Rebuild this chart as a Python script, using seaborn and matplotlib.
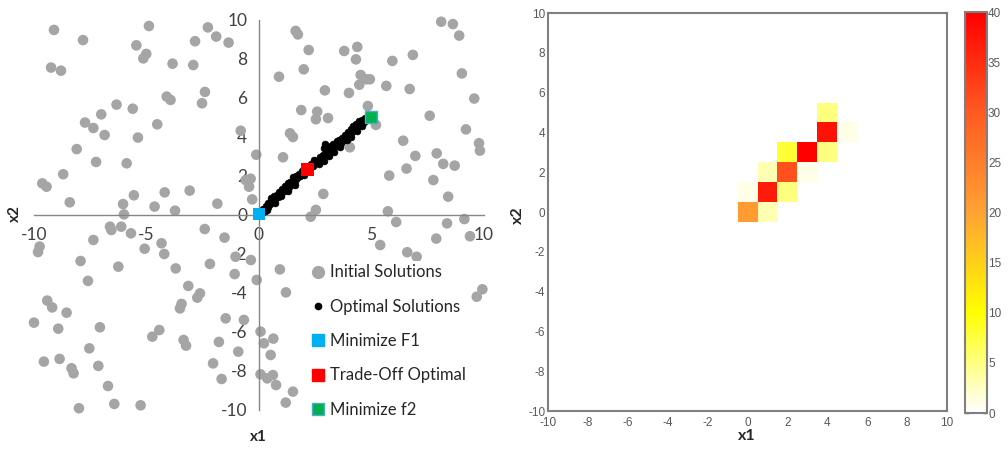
import numpy as np
import pandas as pd
import matplotlib
matplotlib.use("Agg")
import matplotlib.pyplot as plt
import seaborn as sns
from matplotlib.colors import LinearSegmentedColormap
from matplotlib.lines import Line2D

# initial (random) solutions
init_x = [-9.11, -7.82, -4.89, -2.27, -1.90, -1.35, -2.84, -5.45, -5.01, -5.14,
          -9.24, -8.80, -3.84, -2.92, 1.63, 1.73, 2.21, 1.99, 0.89, 3.79,
          4.37, 4.31, 4.52, 4.77, 4.46, 4.93, 2.93, 4.00, 5.66, 5.93,
          6.84, 6.70, 8.10, 8.62, 8.90, 9.02, 9.57, 4.84, 5.20, 7.59,
          9.20, 9.78, 9.82, 6.41, 6.95, 7.90, 8.19, 8.70, 6.56, 5.79,
          7.75, 8.41, 5.73, 6.10, 8.36, 9.13, 7.88, 9.38, 5.39, 6.59,
          7.01, 9.93, 9.68, 2.53, 2.30, 2.86, 1.07, -0.12, 1.88, 2.59,
          2.53, 3.07, 1.38, 1.51, 4.04, -0.81, -0.37, -0.59, -0.44, -0.30,
          -1.85, -3.08, -4.19, -4.64, -3.73, -5.56, -6.04, -6.00, -8.41, -8.70,
          -9.63, -9.44, -7.24, -5.88, -8.10, -7.73, -7.36, -7.01, -6.86, -6.33,
          -5.61, -5.38, -4.52, -4.10, -3.93, -2.40, -2.53, -2.41, -1.53, -6.62,
          -6.56, -6.12, -5.69, -7.36, -9.75, -9.82, -5.08, -4.33, -4.21, -7.93,
          -6.25, -3.70, -2.18, -0.36, -1.04, -1.08, -0.10, 0.93, 1.20, -7.60,
          -3.14, -2.74, -2.62, -9.41, -9.19, -8.55, -3.44, -3.51, -10.00, -8.92,
          -7.07, -1.48, -0.67, -4.43, -4.74, -3.35, -3.24, -1.78, -0.92, -7.54,
          -9.56, -8.86, -7.14, -8.33, -8.24, -2.04, -1.66, -6.71, -8.00, -6.43,
          -5.26, 0.07, 0.22, 0.64, 0.52, 0.07, 0.37, 0.62, 0.76, 1.19, 1.51]
init_y = [9.49, 8.97, 9.69, 9.62, 9.15, 8.84, 8.91, 8.70, 8.26, 8.03,
          7.56, 7.40, 7.76, 7.69, 9.44, 9.26, 8.46, 7.47, 7.09, 8.41,
          8.62, 7.98, 7.18, 6.96, 6.68, 6.96, 6.39, 6.26, 6.62, 7.90,
          8.21, 6.46, 9.91, 9.79, 9.20, 7.26, 5.97, 5.59, 4.62, 5.09,
          4.39, 3.68, 3.30, 3.81, 3.03, 3.16, 2.62, 2.53, 2.38, 2.02,
          1.79, 0.94, 0.19, -0.36, -0.43, -0.21, -1.21, -1.09, -1.54, -1.91,
          -2.14, -3.81, -4.19, 0.26, -0.09, 1.08, 2.96, 3.09, 5.38, 5.30,
          4.91, 4.97, 4.19, 4.00, 3.47, 4.32, 1.86, 1.79, 1.45, 0.80,
          0.58, 1.25, 1.16, 0.43, 0.22, 1.01, 0.56, 0.03, 0.65, 2.09,
          1.62, 1.45, 2.72, 2.65, 3.38, 4.74, 4.46, 5.16, 4.10, 5.66,
          5.45, 3.97, 4.65, 6.07, 5.90, 6.31, 5.73, -0.72, -1.16, -0.60,
          -0.77, -0.60, -0.94, -1.28, -1.62, -1.90, -1.73, -1.45, -2.00, -2.36,
          -2.65, -2.74, -2.51, -2.31, -2.14, -3.03, -3.33, -2.79, -3.97, -3.38,
          -3.64, -4.24, -4.02, -4.39, -4.74, -5.01, -4.56, -4.79, -5.52, -5.83,
          -5.76, -5.30, -5.38, -5.90, -6.24, -6.41, -6.70, -6.51, -7.01, -6.84,
          -7.52, -7.38, -7.74, -7.86, -8.12, -7.61, -8.41, -8.77, -9.91, -9.69,
          -9.76, -5.98, -6.58, -6.34, -7.18, -8.17, -8.38, -8.21, -8.72, -9.62, -9.06]

# optimal (Pareto) solutions along the diagonal band
opt_x = [0.05, 0.12, 0.18, 0.25, 0.31, 0.38, 0.42, 0.50, 0.55, 0.61, 0.68, 0.72,
         0.80, 0.86, 0.90, 0.97, 1.03, 1.10, 1.15, 1.21, 1.28, 1.33, 1.40, 1.46,
         1.52, 1.58, 1.63, 1.70, 1.77, 1.82, 1.90, 1.95, 2.02, 2.08, 2.15, 2.22,
         2.30, 2.36, 2.43, 2.50, 2.56, 2.62, 2.70, 2.76, 2.83, 2.88, 2.95, 3.00,
         3.05, 3.12, 3.18, 3.25, 3.31, 3.38, 3.45, 3.50, 3.57, 3.63, 3.70, 3.76,
         3.82, 3.88, 3.95, 4.02, 4.08, 4.15, 4.20, 4.27, 4.33, 4.40, 4.46, 4.52,
         4.58, 4.65, 4.72, 4.80, 0.35, 0.70, 1.00, 1.30, 1.60, 2.00, 2.40, 2.65,
         2.90, 3.10, 3.35, 3.60, 3.90, 4.10, 4.35, 4.60]
opt_y = [0.12, 0.10, 0.30, 0.22, 0.45, 0.40, 0.62, 0.58, 0.85, 0.72, 0.95, 0.80,
         1.02, 0.90, 1.20, 1.10, 1.35, 1.22, 1.50, 1.30, 1.62, 1.45, 1.70, 1.58,
         1.95, 1.75, 2.02, 1.88, 2.10, 1.98, 2.25, 2.12, 2.40, 2.22, 2.45, 2.38,
         2.62, 2.55, 2.80, 2.65, 2.75, 2.70, 2.95, 2.82, 3.10, 3.45, 3.65, 3.20,
         3.50, 3.30, 3.55, 3.40, 3.62, 3.52, 3.78, 3.60, 3.85, 3.70, 3.95, 3.82,
         4.10, 3.95, 4.25, 4.12, 4.40, 4.28, 4.55, 4.42, 4.68, 4.55, 4.80, 4.65,
         4.88, 4.75, 4.95, 4.88, 0.28, 0.62, 0.98, 1.25, 1.55, 2.05, 2.50, 2.60,
         2.78, 3.02, 3.25, 3.50, 3.85, 4.00, 4.30, 4.55]

min_f1 = [0.0, 0.05]
trade_off = [2.15, 2.34]
min_f2 = [5.0, 5.04]

# histogram of optimal solutions (cells centred on integers)
cell_x = [0, 1, 0, 1, 2, 1, 2, 3, 2, 3, 4, 4, 5, 4]
cell_y = [0, 0, 1, 1, 1, 2, 2, 2, 3, 3, 3, 4, 4, 5]
cell_count = [21, 3, 1, 37, 5, 3, 31, 1, 8, 40, 5, 38, 1, 5]

legend_labels = ["Initial Solutions", "Optimal Solutions", "Minimize F1",
                 "Trade-Off Optimal", "Minimize f2"]

sns.set_style("white")
plt.rcParams["font.family"] = ["Lato", "DejaVu Sans"]
plt.rcParams["axes.unicode_minus"] = False

fig = plt.figure(figsize=(10.08, 4.49), dpi=100)
ax1 = fig.add_axes([0.0337, 0.0869, 0.4464, 0.8686])
ax2 = fig.add_axes([0.5437, 0.0846, 0.3958, 0.8864])
cax = fig.add_axes([0.957, 0.080, 0.0218, 0.893])

# -----------------------------
# Left: scatter of solutions
# -----------------------------
sns.scatterplot(x=init_x, y=init_y, ax=ax1, color="#A5A5A5", s=58,
                edgecolor="none", clip_on=False, zorder=2)
sns.scatterplot(x=opt_x, y=opt_y, ax=ax1, color="black", s=24,
                edgecolor="black", linewidth=0.5, zorder=3)
sns.scatterplot(x=[min_f1[0]], y=[min_f1[1]], ax=ax1, marker="s", color="#00B0F0",
                s=80, edgecolor="none", zorder=4, clip_on=False)
sns.scatterplot(x=[trade_off[0]], y=[trade_off[1]], ax=ax1, marker="s", color="#FF0000",
                s=80, edgecolor="none", zorder=4)
sns.scatterplot(x=[min_f2[0]], y=[min_f2[1]], ax=ax1, marker="s", color="#00B050",
                s=80, edgecolor="#4BACC6", linewidth=1, zorder=4)

ax1.set_xlim(-10, 10)
ax1.set_ylim(-10, 10)
ax1.set_xticks([-10, -5, 0, 5, 10])
ax1.set_yticks(range(-10, 11, 2))
ax1.spines["left"].set_position("zero")
ax1.spines["bottom"].set_position("zero")
for side in ["top", "right"]:
    ax1.spines[side].set_visible(False)
for side in ["left", "bottom"]:
    ax1.spines[side].set_color("#868686")
    ax1.spines[side].set_linewidth(1)
ax1.tick_params(direction="out", length=5, width=1, color="#868686",
                labelsize=12.5, labelcolor="#404040")
ax1.set_xlabel("")
ax1.set_ylabel("")
fig.text(15 / 1008, 1 - 214 / 449, "x2", rotation=90, fontsize=11, fontweight="bold",
         ha="center", va="center")
fig.text(258 / 1008, 1 - 437 / 449, "x1", fontsize=11, fontweight="bold",
         ha="center", va="center")

handles = [
    Line2D([], [], marker="o", ls="none", color="#A5A5A5", markersize=8.5),
    Line2D([], [], marker="o", ls="none", color="black", markersize=4.5),
    Line2D([], [], marker="s", ls="none", color="#00B0F0", markersize=8),
    Line2D([], [], marker="s", ls="none", color="#FF0000", markersize=8),
    Line2D([], [], marker="s", ls="none", color="#00B050", markeredgecolor="#4BACC6",
           markersize=8),
]
leg = ax1.legend(handles, legend_labels, loc="upper left",
                 bbox_to_anchor=(308 / 1008, 1 - 261 / 449), bbox_transform=fig.transFigure,
                 frameon=True, fancybox=False, edgecolor="none", facecolor="white",
                 framealpha=1, fontsize=12, labelspacing=1.1, handlelength=0.8,
                 handletextpad=0.3, borderpad=0.2, borderaxespad=0)
for t in leg.get_texts():
    t.set_color("#262626")

# -----------------------------
# Right: heatmap of optimal solutions
# -----------------------------
xs = list(range(-10, 11))
ys = list(range(10, -11, -1))
grid = pd.DataFrame(0.0, index=ys, columns=xs)
for cx, cy, c in zip(cell_x, cell_y, cell_count):
    grid.loc[cy, cx] = c

cmap = LinearSegmentedColormap.from_list(
    "whyr", [(0.0, "#FFFFFF"), (0.25, "#FFFF00"), (0.5, "#FFA233"),
             (0.75, "#FF5A22"), (1.0, "#FF0000")])
sns.heatmap(grid, ax=ax2, cmap=cmap, vmin=0, vmax=40, cbar_ax=cax,
            xticklabels=False, yticklabels=False)

ax2.set_xlim(0.5, 20.5)
ax2.set_ylim(20.5, 0.5)
tick_vals = list(range(-10, 11, 2))
ax2.set_xticks([v + 10.5 for v in tick_vals])
ax2.set_xticklabels([str(v) for v in tick_vals], rotation=0)
ax2.set_yticks([10 - v + 0.5 for v in tick_vals])
ax2.set_yticklabels([str(v) for v in tick_vals], rotation=0)
for s in ax2.spines.values():
    s.set_visible(True)
    s.set_color("#7F7F7F")
    s.set_linewidth(1.5)
ax2.tick_params(direction="in", length=3, width=1, color="#333333",
                labelsize=8.5, labelcolor="#595959")
ax2.tick_params(axis="y", pad=2)
ax2.tick_params(axis="x", pad=4)
for lab in ax2.get_xticklabels() + ax2.get_yticklabels():
    lab.set_fontfamily(["Liberation Sans", "DejaVu Sans"])
ax2.set_xlabel("")
ax2.set_ylabel("")
fig.text(747 / 1008, 1 - 436 / 449, "x1", fontsize=11.5, fontweight="bold",
         ha="center", va="center")
fig.text(518 / 1008, 1 - 215 / 449, "x2", rotation=90, fontsize=11.5, fontweight="bold",
         ha="center", va="center")

cbar = ax2.collections[0].colorbar
cbar.set_ticks(range(0, 41, 5))
cbar.outline.set_edgecolor("#7F7F7F")
cbar.outline.set_linewidth(1.5)
cax.tick_params(direction="in", length=3, width=1, color="#333333", left=True, right=True,
                labelsize=8.5, labelcolor="#595959", pad=1)
for lab in cax.get_yticklabels():
    lab.set_fontfamily(["Liberation Sans", "DejaVu Sans"])

fig.savefig("out.png", dpi=100)
